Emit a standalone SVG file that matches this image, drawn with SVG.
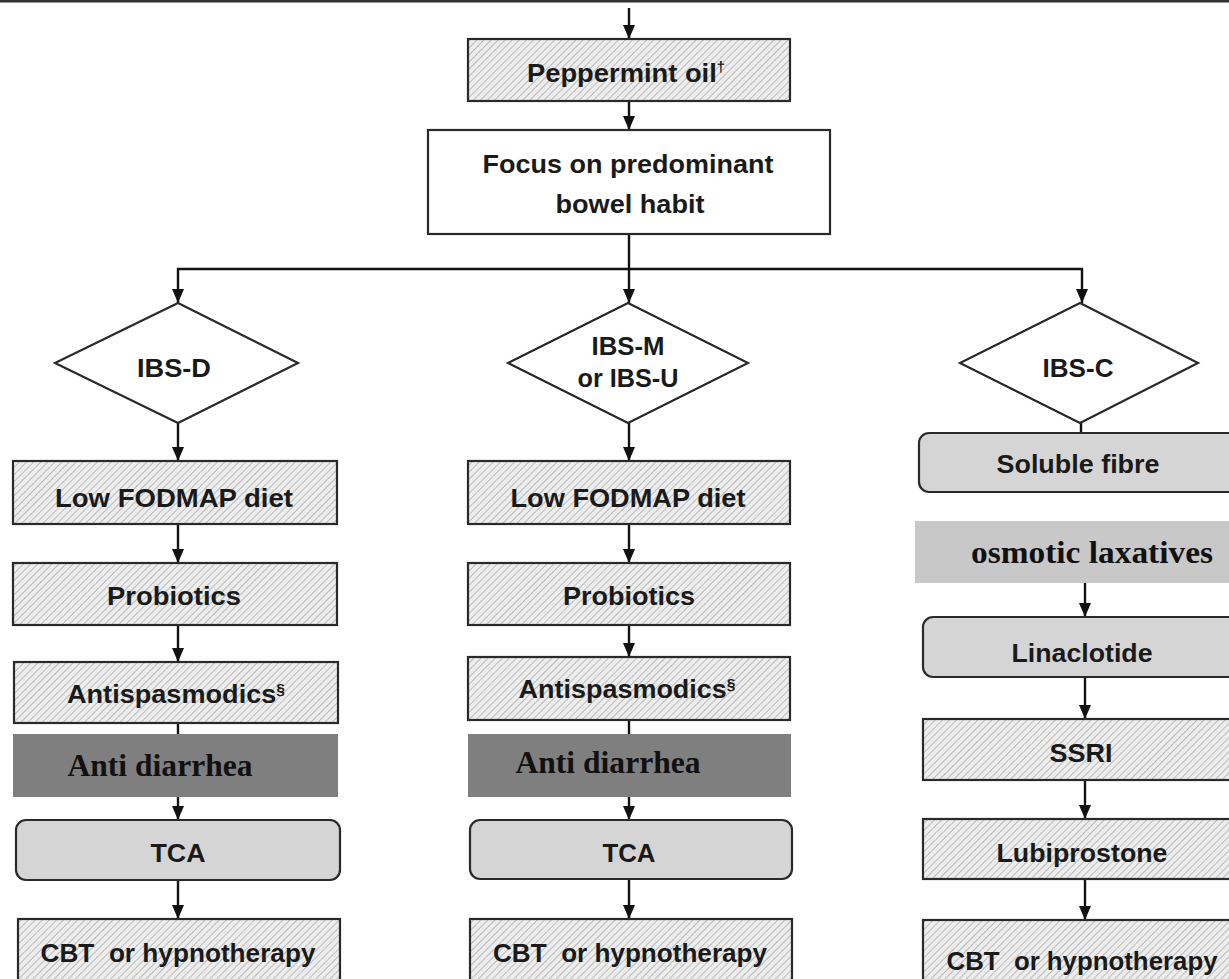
<svg xmlns="http://www.w3.org/2000/svg" width="1229" height="979" viewBox="0 0 1229 979">
<defs>
<pattern id="hatch" patternUnits="userSpaceOnUse" width="5" height="5" patternTransform="rotate(45)">
<rect width="5" height="5" fill="#ededed"/>
<line x1="0" y1="0" x2="0" y2="5" stroke="#a0a0a0" stroke-width="1.3"/>
</pattern>
<marker id="arr" markerUnits="userSpaceOnUse" markerWidth="14" markerHeight="14" refX="14" refY="7" orient="auto">
<path d="M0,1 L14,7 L0,13 z" fill="#111"/>
</marker>
<style>
.h{fill:url(#hatch);stroke:#2a2a2a;stroke-width:2.2}
.w{fill:#fff;stroke:#2a2a2a;stroke-width:2.2}
.g{fill:#d5d5d5;stroke:#2a2a2a;stroke-width:2.2}
.t{font-family:"Liberation Sans",Arial,sans-serif;font-weight:bold;font-size:26px;fill:#1a1a1a;text-anchor:middle}
.s{font-family:"Liberation Serif","Times New Roman",serif;font-weight:bold;font-size:31px;fill:#111;text-anchor:middle}
.c{fill:none;stroke:#111;stroke-width:2.4}
.a{fill:none;stroke:#111;stroke-width:2.4;marker-end:url(#arr)}
</style>
</defs>
<rect width="1229" height="979" fill="#fff"/>
<line x1="0" y1="1" x2="1229" y2="1" stroke="#333" stroke-width="3"/>

<g id="connectors">
<path class="a" d="M629,8 V39"/>
<path class="a" d="M629,101 V130"/>
<path class="a" d="M629,234 V303"/>
<path class="a" d="M629,269 H178 V303"/>
<path class="a" d="M629,269 H1082 V303"/>
<path class="a" d="M178,423 V461"/>
<path class="a" d="M178,524 V563"/>
<path class="a" d="M178,625 V662"/>
<path class="c" d="M178,723 V734"/>
<path class="a" d="M178,797 V820"/>
<path class="a" d="M178,880 V919"/>
<path class="a" d="M629,423 V461"/>
<path class="a" d="M629,524 V563"/>
<path class="a" d="M629,625 V657"/>
<path class="c" d="M629,720 V734"/>
<path class="a" d="M629,797 V820"/>
<path class="a" d="M629,879 V919"/>
<path class="c" d="M1081,423 V433"/>
<path class="a" d="M1085,583 V617"/>
<path class="a" d="M1085,677 V719"/>
<path class="a" d="M1085,780 V819"/>
<path class="a" d="M1085,879 V920"/>
</g>

<g id="peppermint"><rect class="h" x="468" y="39" width="322" height="62"/><text class="t" x="626" y="82" textLength="198" lengthAdjust="spacingAndGlyphs">Peppermint oil<tspan font-size="14" dy="-10">†</tspan></text></g>
<g id="focus"><rect class="w" x="428" y="130" width="402" height="104"/><text class="t" x="628" y="173" textLength="291" lengthAdjust="spacingAndGlyphs">Focus on predominant</text><text class="t" x="630" y="213" textLength="149" lengthAdjust="spacingAndGlyphs">bowel habit</text></g>

<g id="ibs-d"><polygon class="w" points="178,303 298,363 178,423 55,363"/><text class="t" x="174" y="377" textLength="74" lengthAdjust="spacingAndGlyphs">IBS-D</text></g>
<g id="ibs-m"><polygon class="w" points="628,303 748,363 628,423 508,363"/><text class="t" x="628" y="355" textLength="73" lengthAdjust="spacingAndGlyphs">IBS-M</text><text class="t" x="628" y="387" textLength="101" lengthAdjust="spacingAndGlyphs">or IBS-U</text></g>
<g id="ibs-c"><polygon class="w" points="1080,303 1198,363 1080,423 960,363"/><text class="t" x="1078" y="377" textLength="71" lengthAdjust="spacingAndGlyphs">IBS-C</text></g>

<g id="d-fodmap"><rect class="h" x="13" y="461" width="324" height="63"/><text class="t" x="174" y="507" textLength="238" lengthAdjust="spacingAndGlyphs">Low FODMAP diet</text></g>
<g id="d-probiotics"><rect class="h" x="13" y="563" width="324" height="62"/><text class="t" x="174" y="605" textLength="134" lengthAdjust="spacingAndGlyphs">Probiotics</text></g>
<g id="d-antispas"><rect class="h" x="14" y="662" width="324" height="61"/><text class="t" x="176" y="703" textLength="218" lengthAdjust="spacingAndGlyphs">Antispasmodics<tspan font-size="15" dy="-9">§</tspan></text></g>
<g id="d-antidiarrhea"><rect x="13" y="734" width="325" height="63" fill="#7f7f7f"/><text class="s" x="160" y="776" textLength="185" lengthAdjust="spacingAndGlyphs">Anti diarrhea</text></g>
<g id="d-tca"><rect class="g" x="16" y="820" width="324" height="60" rx="10"/><text class="t" x="178" y="862" textLength="55" lengthAdjust="spacingAndGlyphs">TCA</text></g>
<g id="d-cbt"><rect class="h" x="18" y="919" width="322" height="70"/><text class="t" x="178" y="962" textLength="275" lengthAdjust="spacingAndGlyphs" xml:space="preserve">CBT  or hypnotherapy</text></g>

<g id="m-fodmap"><rect class="h" x="468" y="461" width="322" height="63"/><text class="t" x="628" y="507" textLength="235" lengthAdjust="spacingAndGlyphs">Low FODMAP diet</text></g>
<g id="m-probiotics"><rect class="h" x="468" y="563" width="322" height="62"/><text class="t" x="629" y="605" textLength="132" lengthAdjust="spacingAndGlyphs">Probiotics</text></g>
<g id="m-antispas"><rect class="h" x="468" y="657" width="322" height="63"/><text class="t" x="627" y="698" textLength="217" lengthAdjust="spacingAndGlyphs">Antispasmodics<tspan font-size="15" dy="-9">§</tspan></text></g>
<g id="m-antidiarrhea"><rect x="468" y="734" width="323" height="63" fill="#7f7f7f"/><text class="s" x="608" y="773" textLength="185" lengthAdjust="spacingAndGlyphs">Anti diarrhea</text></g>
<g id="m-tca"><rect class="g" x="470" y="820" width="322" height="59" rx="10"/><text class="t" x="629" y="862" textLength="53" lengthAdjust="spacingAndGlyphs">TCA</text></g>
<g id="m-cbt"><rect class="h" x="470" y="919" width="322" height="70"/><text class="t" x="630" y="962" textLength="274" lengthAdjust="spacingAndGlyphs" xml:space="preserve">CBT  or hypnotherapy</text></g>

<g id="c-fibre"><rect class="g" x="919" y="433" width="330" height="59" rx="10"/><text class="t" x="1078" y="473" textLength="163" lengthAdjust="spacingAndGlyphs">Soluble fibre</text></g>
<g id="c-osmotic"><rect x="915" y="521" width="320" height="62" fill="#c8c8c8"/><text class="s" x="1092" y="563" textLength="242" lengthAdjust="spacingAndGlyphs">osmotic laxatives</text></g>
<g id="c-linaclotide"><rect class="g" x="923" y="617" width="330" height="60" rx="10"/><text class="t" x="1082" y="662" textLength="141" lengthAdjust="spacingAndGlyphs">Linaclotide</text></g>
<g id="c-ssri"><rect class="h" x="923" y="719" width="330" height="61"/><text class="t" x="1081" y="762" textLength="63" lengthAdjust="spacingAndGlyphs">SSRI</text></g>
<g id="c-lubiprostone"><rect class="h" x="923" y="819" width="330" height="60"/><text class="t" x="1082" y="862" textLength="171" lengthAdjust="spacingAndGlyphs">Lubiprostone</text></g>
<g id="c-cbt"><rect class="h" x="923" y="920" width="330" height="70"/><text class="t" x="1082" y="970" textLength="271" lengthAdjust="spacingAndGlyphs" xml:space="preserve">CBT  or hypnotherapy</text></g>
</svg>
